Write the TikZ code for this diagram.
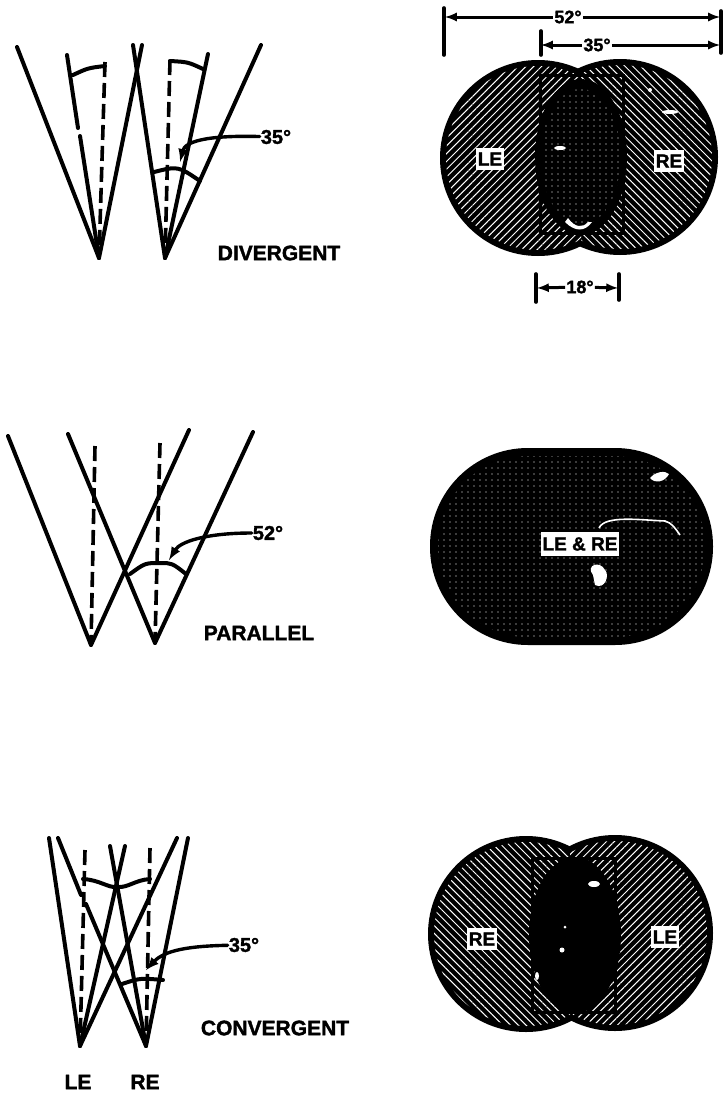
\documentclass[tikz,border=0pt]{standalone}
\usepackage{fontspec}
\setmainfont[BoldFeatures={FakeBold=1.6}]{Liberation Sans}
\usetikzlibrary{patterns.meta}
\tikzset{
  ray/.style={line width=4pt,line cap=round},
  sight/.style={line width=3.6pt,dash pattern=on 15pt off 6pt},
  leader/.style={line width=3.4pt,line cap=round,-latex},
  dimline/.style={line width=3pt,-latex},
  tick/.style={line width=3.6pt,line cap=round},
  caption/.style={font=\fontsize{21}{21}\selectfont\bfseries,inner sep=0pt},
  deg/.style={font=\fontsize{20}{20}\selectfont\bfseries,inner sep=1pt},
  dimdeg/.style={font=\fontsize{18}{18}\selectfont\bfseries,inner sep=1pt},
  eyetag/.style={font=\fontsize{19}{19}\selectfont\bfseries,fill=white,inner xsep=2pt,inner ysep=4pt},
  nehatch/.style={pattern={Lines[angle=45,distance=5.5pt,line width=1pt]},pattern color=white},
  nwhatch/.style={pattern={Lines[angle=-45,distance=5.5pt,line width=1pt]},pattern color=white},
  speckle/.style={pattern={Dots[distance=6pt,radius=0.6pt]},pattern color=white},
  speck/.style={fill=white,draw=none}
}
\begin{document}
\begin{tikzpicture}[x=1pt,y=-1pt]
\useasboundingbox (0,0) rectangle (724,1098);
% divergent rays
\coordinate (divL) at (99,258);
\coordinate (divR) at (165,258);
\draw[ray] (divL) -- (17,47);
\draw[ray] (divL) -- (142,45);
\draw[ray] (67,55) -- (78,128);
\draw[ray] (80,136) -- (divL);
\draw[sight] (105,62) -- (divL);
\draw[ray] (divR) -- (133,45);
\draw[ray] (divR) -- (261,45);
\draw[ray] (divR) -- (208,54);
\draw[sight] (170,60) -- (divR);
\draw[ray] (73,75) .. controls (88,68) .. (105,66);
\draw[ray] (170,61) .. controls (188,62) .. (203,69);
\draw[ray] (154,172) .. controls (178,166) .. (200,181);
\node[deg] (divDeg) at (276,137) {35°};
\draw[leader] (divDeg) .. controls (205,135) and (185,142) .. (180,162);
\node[caption] (divCap) at (279,253) {DIVERGENT};
% divergent field
\fill (538,158) circle[radius=98];
\fill (620,157) circle[radius=98];
\begin{scope}
\clip (430,0) rectangle (581,300);
\path[nehatch] (538,158) circle[radius=92];
\end{scope}
\begin{scope}
\clip (581,0) rectangle (724,300);
\path[nwhatch] (620,157) circle[radius=92];
\end{scope}
\draw[line width=3pt] (540,75) rectangle (623,233);
\fill (581,157) ellipse[x radius=46,y radius=78];
\path[speckle] (581,157) ellipse[x radius=40,y radius=68];
\node[eyetag] (divLE) at (490,159) {LE};
\node[eyetag] (divRE) at (669,161) {RE};
\fill[speck] (670,112) ellipse[x radius=8,y radius=2];
\fill[speck] (650,90) circle[radius=2];
\fill[speck] (560,148) ellipse[x radius=6,y radius=2];
\path[fill=white] (565,222) .. controls (575,232) and (585,232) .. (592,222) -- (588,222) .. controls (583,228) and (575,228) .. (568,218) -- cycle;
% divergent spans
\coordinate (wideL) at (445,17);
\coordinate (wideR) at (720,17);
\node[dimdeg] (wideDeg) at (568,17) {52°};
\draw[dimline] (wideDeg) -- (wideL);
\draw[dimline] (wideDeg) -- (wideR);
\draw[tick] (444,8) -- (444,55);
\draw[tick] (721,11) -- (721,53);
\coordinate (midL) at (541,45);
\coordinate (midR) at (720,45);
\node[dimdeg] (midDeg) at (597,45) {35°};
\draw[dimline] (midDeg) -- (midL);
\draw[dimline] (midDeg) -- (midR);
\draw[tick] (541,31) -- (541,55);
\coordinate (lapL) at (537,288);
\coordinate (lapR) at (618,288);
\node[dimdeg] (lapDeg) at (580,287) {18°};
\draw[dimline] (lapDeg) -- (lapL);
\draw[dimline] (lapDeg) -- (lapR);
\draw[tick] (536,274) -- (536,302);
\draw[tick] (619,274) -- (619,300);
% parallel rays
\coordinate (parL) at (91,645);
\coordinate (parR) at (155,643);
\draw[ray] (parL) -- (8,436);
\draw[ray] (parL) -- (189,430);
\draw[sight] (95,446) -- (parL);
\draw[ray] (parR) -- (68,434);
\draw[ray] (parR) -- (253,432);
\draw[sight] (160,443) -- (parR);
\draw[ray] (130,574) .. controls (145,563) .. (160,563) .. controls (172,563) .. (186,574);
\node[deg] (parDeg) at (268,533) {52°};
\draw[leader] (parDeg) .. controls (205,533) and (180,542) .. (169,560);
\node[caption] (parCap) at (259,633) {PARALLEL};
% parallel field
\fill[rounded corners=98pt] (430,448) rectangle (713,645);
\path[speckle,rounded corners=90pt] (438,456) rectangle (705,637);
\fill[speck] (587,433) circle[radius=1.5];
\fill[speck] (593,575) .. controls (585,565) and (600,560) .. (605,570) .. controls (610,575) and (605,590) .. (595,585) -- cycle;
\fill[speck] (650,478) .. controls (655,472) and (665,470) .. (669,474) .. controls (665,482) and (655,484) .. (650,478) -- cycle;
\draw[white,line width=1.6pt] (599,528) .. controls (605,515) and (640,520) .. (665,521) .. controls (672,523) and (675,528) .. (680,535);
\node[eyetag,inner ysep=5pt] (parTag) at (580,544) {LE \& RE};
% convergent rays
\coordinate (conL) at (80,1046);
\coordinate (conR) at (146,1046);
\draw[ray] (conL) -- (49,838);
\draw[ray] (conL) -- (125,846);
\draw[ray] (conL) -- (177,838);
\draw[sight] (85,850) -- (conL);
\draw[ray] (conR) -- (188,838);
\draw[ray] (conR) -- (110,846);
\draw[ray] (58,838) -- (81,895);
\draw[ray] (86,904) -- (conR);
\draw[sight] (150,848) -- (conR);
\draw[ray] (83,879) .. controls (100,880) and (108,888) .. (117,887) .. controls (128,888) and (135,880) .. (150,879);
\draw[ray] (122,984) .. controls (140,978) .. (163,980);
\node[deg] (conDeg) at (244,945) {35°};
\draw[leader] (conDeg) .. controls (190,946) and (165,950) .. (146,970);
\node[caption] (conCap) at (275,1028) {CONVERGENT};
\node[caption] (conLE) at (78,1082) {LE};
\node[caption] (conRE) at (145,1082) {RE};
% convergent field
\fill (526,934) circle[radius=98];
\fill (615,933) circle[radius=98];
\begin{scope}
\clip (420,800) rectangle (570,1060);
\path[nwhatch] (526,934) circle[radius=92];
\end{scope}
\begin{scope}
\clip (570,800) rectangle (724,1060);
\path[nehatch] (615,933) circle[radius=92];
\end{scope}
\draw[line width=3pt] (532,858) rectangle (615,1012);
\fill (575,935) ellipse[x radius=46,y radius=78];
\node[eyetag] (conTagR) at (482,939) {RE};
\node[eyetag] (conTagL) at (665,937) {LE};
\fill[speck] (594,884) ellipse[x radius=6,y radius=3];
\fill[speck] (562,950) circle[radius=2.5];
\fill[speck] (565,927) circle[radius=1.5];
\fill[speck] (537,976) ellipse[x radius=2,y radius=4];
\end{tikzpicture}
\end{document}
